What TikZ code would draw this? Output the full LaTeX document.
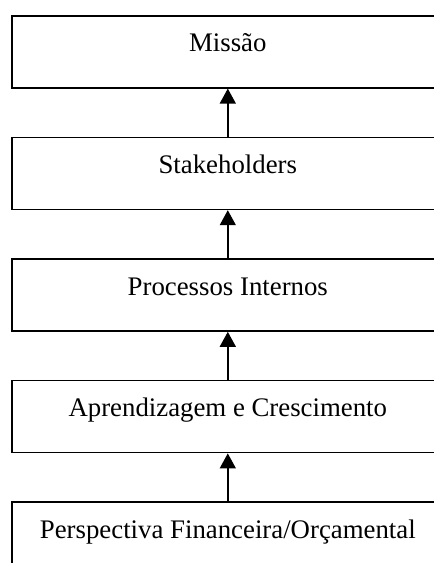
\documentclass[tikz,border=0pt]{standalone}
\usepackage{fontspec}
\setmainfont{Liberation Serif}
\usetikzlibrary{positioning,arrows.meta}

\begin{document}
\begin{tikzpicture}[
  box/.style={draw,line width=0.8pt,minimum width=216pt,minimum height=36pt,
    text height=10pt,text depth=10pt,inner sep=0pt,font=\fontsize{13.4}{16}\selectfont},
  link/.style={-{Triangle[width=8pt,length=7.5pt]},line width=0.7pt},
  node distance=24pt]
\clip (0,0) rectangle (217pt,-281.5pt);
\useasboundingbox (0,0) rectangle (217pt,-281.5pt);
\node[box,anchor=north west] (missao) at (5.5pt,-7.5pt) {Missão};
\node[box,below=of missao] (stake) {Stakeholders};
\node[box,below=of stake] (proc) {Processos Internos};
\node[box,below=of proc] (aprend) {Aprendizagem e Crescimento};
\node[box,below=of aprend] (financ) {Perspectiva Financeira/Orçamental};
\draw[link] (stake) -- (missao);
\draw[link] (proc) -- (stake);
\draw[link] (aprend) -- (proc);
\draw[link] (financ) -- (aprend);
\end{tikzpicture}
\end{document}
